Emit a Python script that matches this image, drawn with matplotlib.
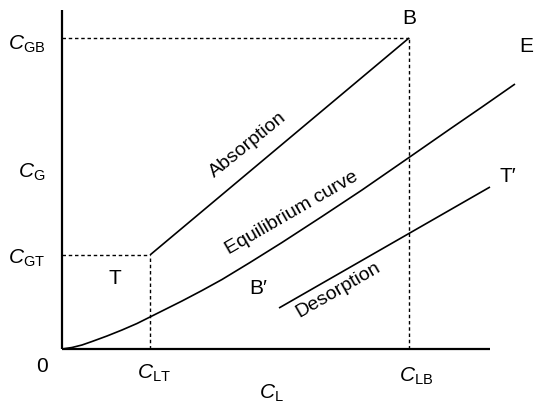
import matplotlib.pyplot as plt

plt.rcParams['font.family'] = 'Liberation Sans'
plt.rcParams['mathtext.fontset'] = 'custom'
plt.rcParams['mathtext.rm'] = 'Liberation Sans'
plt.rcParams['mathtext.it'] = 'Liberation Sans:italic'

# key concentrations (arbitrary units)
c_lt, c_lb = 0.88, 3.47
c_gt, c_gb = 0.94, 3.11
x_axis_end, y_axis_end = 4.28, 3.39

# equilibrium curve
eq_x = [0, 0.1, 0.2, 0.3, 0.45, 0.6, 0.75, 0.88, 1.05, 1.2, 1.4, 1.6,
        1.88, 2.2, 2.6, 3.0, 3.47, 3.88, 4.2, 4.53]
eq_y = [0, 0.015, 0.04, 0.075, 0.13, 0.19, 0.255, 0.32, 0.405, 0.48, 0.585, 0.695,
        0.865, 1.065, 1.325, 1.59, 1.915, 2.2, 2.42, 2.65]

# operating lines
abs_x = [c_lt, c_lb]
abs_y = [c_gt, c_gb]
des_x = [2.17, 4.28]
des_y = [0.41, 1.62]


def main():
    fig = plt.figure(figsize=(5.35, 4.08), dpi=100)
    ax = fig.add_axes([0, 0, 1, 1])
    ax.set_xlim(-0.62, 4.73)
    ax.set_ylim(-0.59, 3.49)
    ax.axis('off')

    k = dict(color='black', solid_capstyle='butt')
    # axes
    ax.plot([0, x_axis_end], [0, 0], lw=1.6, **k)
    ax.plot([0, 0], [0, y_axis_end], lw=1.6, **k)

    # curves
    ax.plot(eq_x, eq_y, lw=1.2, **k)
    ax.plot(abs_x, abs_y, lw=1.2, **k)
    ax.plot(des_x, des_y, lw=1.2, **k)

    # dashed guides
    dash = dict(color='black', lw=1.0, linestyle=(0, (2.5, 2)))
    ax.plot([0, c_lb], [c_gb, c_gb], **dash)
    ax.plot([c_lb, c_lb], [0, c_gb], **dash)
    ax.plot([0, c_lt], [c_gt, c_gt], **dash)
    ax.plot([c_lt, c_lt], [0, c_gt], **dash)

    fs = 15
    ax.text(c_lb, 3.31, 'B', fontsize=fs, ha='center', va='center')
    ax.text(4.57, 3.02, 'E', fontsize=fs, ha='left', va='center')
    ax.text(4.38, 1.72, 'T\u2032', fontsize=fs, ha='left', va='center')
    ax.text(1.96, 0.60, 'B\u2032', fontsize=fs, ha='center', va='center')
    ax.text(0.53, 0.71, 'T', fontsize=fs, ha='center', va='center')
    ax.text(-0.20, -0.18, '0', fontsize=fs, ha='center', va='center')

    ax.text(-0.17, c_gb - 0.06, r'$C_{\mathrm{GB}}$', fontsize=fs, ha='right', va='center')
    ax.text(-0.17, 1.77, r'$C_{\mathrm{G}}$', fontsize=fs, ha='right', va='center')
    ax.text(-0.17, c_gt - 0.03, r'$C_{\mathrm{GT}}$', fontsize=fs, ha='right', va='center')
    ax.text(c_lt + 0.04, -0.24, r'$C_{\mathrm{LT}}$', fontsize=fs, ha='center', va='center')
    ax.text(c_lb + 0.07, -0.27, r'$C_{\mathrm{LB}}$', fontsize=fs, ha='center', va='center')
    ax.text(2.09, -0.44, r'$C_{\mathrm{L}}$', fontsize=fs, ha='center', va='center')

    rs = 14
    ax.text(1.86, 2.04, 'Absorption', fontsize=rs, rotation=39,
            ha='center', va='center', rotation_mode='anchor')
    ax.text(2.30, 1.36, 'Equilibrium curve', fontsize=rs, rotation=30,
            ha='center', va='center', rotation_mode='anchor')
    ax.text(2.76, 0.59, 'Desorption', fontsize=rs, rotation=30,
            ha='center', va='center', rotation_mode='anchor')

    fig.savefig('out.png', dpi=100)


if __name__ == '__main__':
    main()
